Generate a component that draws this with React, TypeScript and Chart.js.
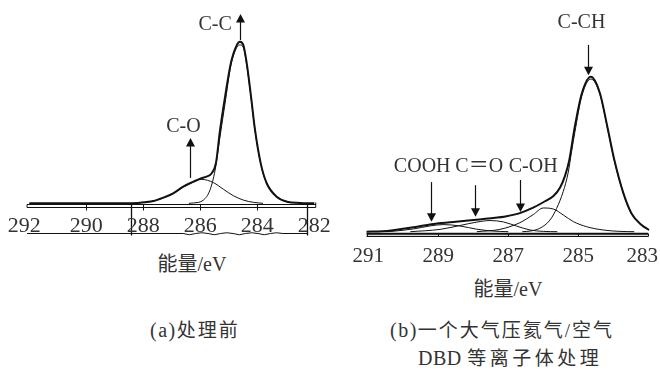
import React, { useEffect, useRef } from "react";
import { Chart, registerables } from "chart.js";

Chart.register(...registerables);

// ---------- data (binding energy in eV, intensity in relative units, peak = 100) ----------
const leftTickLabels = [292, 290, 288, 286, 284, 282];
const leftTotalEnergy = [292, 290, 288.6, 288.1, 287.65, 287.3, 286.95, 286.6, 286.24, 286.0, 285.78, 285.6, 285.45, 285.31, 285.13, 284.93, 284.72, 284.61, 284.49, 284.37, 284.22, 284.08, 283.88, 283.67, 283.32, 282.96, 282.5, 282];
const leftTotal = [0, 0, 0.1, 0.4, 1.4, 3.5, 6.2, 10.3, 13.4, 15.3, 16.5, 18.6, 25, 45, 66, 86.6, 97.9, 100, 97.9, 86.6, 66, 45.4, 24.7, 12.4, 4.1, 1, 0.2, 0];
const leftCCEnergy = [286.4, 286.24, 285.89, 285.66, 285.48, 285.31, 285.13, 284.93, 284.72, 284.61, 284.49, 284.37, 284.22, 284.08, 283.88, 283.67, 283.32, 282.96, 282.5];
const leftCC = [0, 0.2, 2, 8.2, 20.6, 41, 62, 85, 96.5, 98, 96.5, 85.5, 65.5, 45, 24.5, 12.2, 4, 1, 0.2];
const leftCOEnergy = [288.3, 287.65, 286.95, 286.6, 286.24, 285.95, 285.54, 285.19, 284.84, 284.49, 284.14, 283.8];
const leftCO = [0, 1.4, 6.2, 10, 13.3, 14.8, 12.8, 8.7, 4.7, 2, 0.6, 0];

const rightTickLabels = [291, 289, 287, 285, 283];
const rightTotalEnergy = [291.05, 290.6, 290.29, 289.71, 289.14, 288.57, 288.0, 287.43, 287.05, 286.67, 286.29, 286.0, 285.71, 285.52, 285.38, 285.26, 285.1, 284.9, 284.64, 284.38, 284.17, 283.97, 283.71, 283.48, 283.19, 282.98];
const rightTotal = [0, 0.3, 1, 2.8, 5, 6.2, 7.6, 8.8, 10, 12, 15.5, 19, 23, 28.5, 36, 46, 67.7, 89.2, 100, 89.2, 67.7, 46.2, 24.7, 11.8, 4.3, 1.1];
const rightCCHEnergy = [286.6, 286.38, 286.1, 285.81, 285.62, 285.43, 285.29, 285.19, 285.1, 284.9, 284.64, 284.38, 284.17, 283.97, 283.71, 283.48, 283.19, 282.98];
const rightCCH = [0, 0.4, 2.2, 7.5, 15, 26, 38, 52, 64, 87.5, 98.5, 88.5, 67.2, 45.8, 24.5, 11.6, 4.2, 1];
const rightCOHEnergy = [287.9, 287.24, 286.67, 286.29, 286.0, 285.71, 285.43, 285.14, 284.76, 284.29, 283.81, 283.4];
const rightCOH = [0, 1.5, 5.8, 11, 15.3, 14.6, 10.8, 6.5, 3.2, 1.1, 0.2, 0];
const rightCOEnergy = [289.8, 288.95, 288.38, 287.9, 287.52, 287.14, 286.76, 286.38, 286.0, 285.6];
const rightCO = [0, 1.5, 4, 6.2, 7.2, 6.3, 3.6, 1.1, 0.2, 0];
const rightCOOHEnergy = [290.5, 290.29, 289.71, 289.24, 288.86, 288.38, 287.9, 287.43, 287.0];
const rightCOOH = [0, 0.3, 1.8, 3.7, 4.6, 3.7, 1.6, 0.4, 0];

// annotation labels: text position and arrow (energy, value)
type Ann = { text: string; textE: number; textV: number; arrowE: number; fromV: number; toV: number };
const leftAnnotations: Ann[] = [
  { text: "C-C", textE: 285.48, textV: 110.6, arrowE: 284.61, fromV: 101, toV: 117.1 },
  { text: "C-O", textE: 286.59, textV: 47.5, arrowE: 286.36, fromV: 15.7, toV: 40.4 },
];
const rightAnnotations: Ann[] = [
  { text: "C-CH", textE: 284.91, textV: 135, arrowE: 284.72, fromV: 120.5, toV: 101 },
  { text: "COOH", textE: 289.46, textV: 41.7, arrowE: 289.22, fromV: 32, toV: 6.5 },
  { text: "C\uFF1DO", textE: 287.83, textV: 41.7, arrowE: 287.95, fromV: 30, toV: 9.7 },
  { text: "C-OH", textE: 286.29, textV: 41.7, arrowE: 286.67, fromV: 33.4, toV: 12.7 },
];

const SERIF = '"Liberation Serif", "Noto Sans CJK SC", serif';
const INK = "#111";
const TEXT = "#333";

function pts(e: number[], v: number[]) {
  return e.map((x, i) => ({ x, y: v[i] }));
}

function line(e: number[], v: number[], width: number) {
  return {
    data: pts(e, v),
    borderColor: INK,
    borderWidth: width,
    pointRadius: 0,
    fill: false,
    cubicInterpolationMode: "monotone" as const,
    clip: false as any,
  };
}

function drawArrow(ctx: CanvasRenderingContext2D, x: number, y1: number, y2: number) {
  const dir = Math.sign(y2 - y1);
  ctx.save();
  ctx.strokeStyle = INK;
  ctx.fillStyle = INK;
  ctx.lineWidth = 1.2;
  ctx.beginPath();
  ctx.moveTo(x, y1);
  ctx.lineTo(x, y2 - dir * 6);
  ctx.stroke();
  ctx.beginPath();
  ctx.moveTo(x, y2);
  ctx.lineTo(x - 4.5, y2 - dir * 8.5);
  ctx.lineTo(x + 4.5, y2 - dir * 8.5);
  ctx.closePath();
  ctx.fill();
  ctx.restore();
}

function annotationPlugin(anns: Ann[]) {
  return {
    id: "annotations",
    afterDatasetsDraw(chart: any) {
      const { ctx, scales } = chart;
      const xs = scales.x;
      const ys = scales.y;
      ctx.save();
      ctx.font = `20px ${SERIF}`;
      ctx.fillStyle = TEXT;
      ctx.textAlign = "center";
      ctx.textBaseline = "middle";
      for (const a of anns) {
        ctx.fillText(a.text, xs.getPixelForValue(a.textE), ys.getPixelForValue(a.textV));
        drawArrow(ctx, Math.round(xs.getPixelForValue(a.arrowE)) + 0.5, ys.getPixelForValue(a.fromV), ys.getPixelForValue(a.toV));
      }
      ctx.restore();
    },
  };
}

const leftAxisPlugin = {
  id: "leftAxis",
  afterDatasetsDraw(chart: any) {
    const { ctx, scales } = chart;
    const xs = scales.x;
    const y0 = scales.y.getPixelForValue(0);
    const xa = xs.getPixelForValue(292.08);
    const xb = xs.getPixelForValue(281.95);
    const top = Math.round(y0 + 1) + 0.5;
    const bot = Math.round(y0 + 3.5) + 0.5;
    ctx.save();
    ctx.strokeStyle = INK;
    ctx.lineWidth = 1;
    ctx.beginPath();
    ctx.moveTo(xa, top);
    ctx.lineTo(xb, top);
    ctx.moveTo(xa, bot);
    ctx.lineTo(xb, bot);
    ctx.moveTo(xa, top);
    ctx.lineTo(xa, bot);
    ctx.moveTo(xb, top - 2);
    ctx.lineTo(xb, bot);
    for (const t of [290, 288, 286, 284]) {
      const px = Math.round(xs.getPixelForValue(t)) + 0.5;
      ctx.moveTo(px, top);
      ctx.lineTo(px, bot + 3);
    }
    ctx.stroke();
    // box / underline below tick labels
    const v1 = Math.round(xs.getPixelForValue(288.44)) + 0.5;
    const v2 = Math.round(xs.getPixelForValue(282.25)) + 0.5;
    const low = Math.round(y0 + 30) + 0.5;
    ctx.beginPath();
    ctx.lineWidth = 1.3;
    ctx.moveTo(v1, top);
    ctx.lineTo(v1, low + 2);
    ctx.moveTo(v2, top);
    ctx.lineTo(v2, low + 2);
    ctx.stroke();
    ctx.beginPath();
    ctx.lineWidth = 1;
    ctx.moveTo(xa, low);
    const w1 = xs.getPixelForValue(286.6);
    const w2 = xs.getPixelForValue(283.1);
    ctx.lineTo(w1, low);
    const n = 8;
    for (let i = 0; i < n; i++) {
      const xA = w1 + ((w2 - w1) * i) / n;
      const xB = w1 + ((w2 - w1) * (i + 1)) / n;
      ctx.quadraticCurveTo((xA + xB) / 2, low + (i % 2 === 0 ? 2.5 : -1.5), xB, low);
    }
    ctx.lineTo(v2, low);
    ctx.stroke();
    // tick labels
    ctx.font = `22px ${SERIF}`;
    ctx.fillStyle = TEXT;
    ctx.textAlign = "center";
    ctx.textBaseline = "alphabetic";
    for (const t of leftTickLabels) {
      const s = String(t);
      const w = ctx.measureText(s).width;
      let px = xs.getPixelForValue(t);
      px = Math.max(px - 5 * (t === 292 ? 1 : 0), w / 2 + 2);
      ctx.fillText(s, px, y0 + 28.7);
    }
    ctx.restore();
  },
};

const rightAxisPlugin = {
  id: "rightAxis",
  afterDatasetsDraw(chart: any) {
    const { ctx, scales, width } = chart;
    const xs = scales.x;
    const y0 = scales.y.getPixelForValue(0);
    const xa = xs.getPixelForValue(291.05);
    const xb = xs.getPixelForValue(283.0);
    const top = y0 + 2;
    const bot = Math.round(y0 + 4.5) + 0.5;
    ctx.save();
    ctx.fillStyle = "#d8d8d8";
    ctx.fillRect(xa, top, xb - xa, bot - top);
    ctx.strokeStyle = INK;
    ctx.lineWidth = 2;
    ctx.beginPath();
    ctx.moveTo(xa, top);
    ctx.lineTo(xb, top);
    ctx.stroke();
    ctx.lineWidth = 1;
    ctx.beginPath();
    ctx.moveTo(xa, bot);
    ctx.lineTo(xb, bot);
    const ends = [xa, xb];
    for (const px of ends) {
      ctx.moveTo(Math.round(px) + 0.5, top);
      ctx.lineTo(Math.round(px) + 0.5, bot);
    }
    for (const t of [289, 287, 285]) {
      const px = Math.round(xs.getPixelForValue(t)) + 0.5;
      ctx.moveTo(px, top);
      ctx.lineTo(px, bot);
    }
    ctx.stroke();
    ctx.font = `21px ${SERIF}`;
    ctx.fillStyle = TEXT;
    ctx.textAlign = "center";
    ctx.textBaseline = "alphabetic";
    for (const t of rightTickLabels) {
      const s = String(t);
      const w = ctx.measureText(s).width;
      let px = xs.getPixelForValue(t);
      px = Math.min(px, width - w / 2 - 2);
      ctx.fillText(s, px, y0 + 30.3);
    }
    ctx.restore();
  },
};

function makeConfig(
  datasets: any[],
  xMin: number,
  xMax: number,
  padding: { left: number; right: number; top: number; bottom: number },
  plugins: any[]
) {
  return {
    type: "line" as const,
    data: { datasets },
    options: {
      animation: false as const,
      responsive: false,
      devicePixelRatio: 1,
      parsing: false as const,
      layout: { padding },
      plugins: { legend: { display: false }, tooltip: { enabled: false } },
      scales: {
        x: { type: "linear" as const, reverse: true, min: xMin, max: xMax, display: false },
        y: { type: "linear" as const, min: 0, max: 100, display: false },
      },
    },
    plugins,
  };
}

function SpectrumChart(props: { config: any; width: number; height: number; left: number; top: number }) {
  const ref = useRef<HTMLCanvasElement | null>(null);
  useEffect(() => {
    if (!ref.current) return;
    const chart = new Chart(ref.current, props.config);
    return () => chart.destroy();
  }, []);
  return (
    <canvas
      ref={ref}
      width={props.width}
      height={props.height}
      style={{ position: "absolute", left: props.left, top: props.top, width: props.width, height: props.height }}
    />
  );
}

const leftConfig = makeConfig(
  [
    line(leftCOEnergy, leftCO, 1),
    line(leftCCEnergy, leftCC, 1),
    line(leftTotalEnergy, leftTotal, 2),
  ],
  282,
  292,
  { left: 29.3, right: 15.7, top: 41.7, bottom: 46.7 },
  [leftAxisPlugin, annotationPlugin(leftAnnotations)]
);

const rightConfig = makeConfig(
  [
    line(rightCOOHEnergy, rightCOOH, 1),
    line(rightCOEnergy, rightCO, 1),
    line(rightCOHEnergy, rightCOH, 1),
    line(rightCCHEnergy, rightCCH, 1),
    line(rightTotalEnergy, rightTotal, 2),
  ],
  283,
  291,
  { left: 38.3, right: 11.7, top: 76.7, bottom: 38.3 },
  [rightAxisPlugin, annotationPlugin(rightAnnotations)]
);

const captionStyle: React.CSSProperties = {
  position: "absolute",
  fontFamily: SERIF,
  fontSize: 19,
  letterSpacing: "2px",
  color: TEXT,
  lineHeight: "20px",
  whiteSpace: "nowrap",
};

const latinStyle: React.CSSProperties = { fontSize: 20, letterSpacing: "1.5px" };

const axisTitleStyle: React.CSSProperties = {
  position: "absolute",
  fontFamily: SERIF,
  fontSize: 20,
  color: TEXT,
  lineHeight: "22px",
  whiteSpace: "nowrap",
  transform: "translateX(-50%)",
};

export default function App() {
  return (
    <div style={{ position: "absolute", left: 0, top: 0, width: 660, height: 372, background: "#fff", overflow: "hidden" }}>
      <SpectrumChart config={leftConfig} width={330} height={250} left={0} top={0} />
      <SpectrumChart config={rightConfig} width={330} height={270} left={330} top={0} />
      <div style={{ ...axisTitleStyle, left: 192, top: 253 }}>能量/eV</div>
      <div style={{ ...axisTitleStyle, left: 508, top: 278 }}>能量/eV</div>
      <div style={{ ...captionStyle, left: 150, top: 320 }}>
        <span style={latinStyle}>(a)</span>处理前
      </div>
      <div style={{ ...captionStyle, left: 390, top: 320 }}>
        <span style={latinStyle}>(b)</span>一个大气压氦气/空气
      </div>
      <div style={{ ...captionStyle, left: 418, top: 348, letterSpacing: "3.5px" }}>
        <span style={{ fontSize: 20, letterSpacing: "0.5px" }}>DBD </span>等离子体处理
      </div>
    </div>
  );
}
